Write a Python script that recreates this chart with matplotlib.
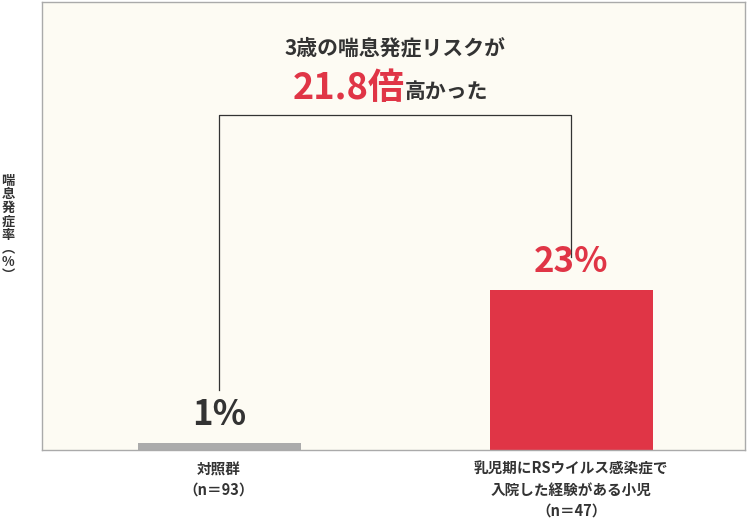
import matplotlib
matplotlib.use("Agg")
import matplotlib.pyplot as plt

plt.rcParams["font.family"] = ["Noto Sans CJK JP", "DejaVu Sans"]

GROUPS = ["対照群\n（n＝93）", "乳児期にRSウイルス感染症で\n入院した経験がある小児\n（n＝47）"]
RATES = [1, 23]
RATE_LABELS = ["1%", "23%"]
COLORS = ["#ababab", "#e03546"]
RED = "#e03546"
DARK = "#333333"

fig = plt.figure(figsize=(7.5, 5.26), dpi=100)
ax = fig.add_axes([42 / 750, 76 / 526, 703 / 750, 448 / 526])
ax.set_facecolor("#fdfbf3")
for s in ax.spines.values():
    s.set_color("#aaaaaa")
    s.set_linewidth(1)

x = [0, 1]
ax.bar(x, RATES, width=0.463, color=COLORS)
ax.set_xlim(-0.503, 1.494)
ax.set_ylim(0, 64.4)
ax.set_xticks([])
ax.set_yticks([])

for xi, r, lab, c in zip(x, RATES, RATE_LABELS, [DARK, RED]):
    ax.text(xi, r + 1.6, lab, ha="center", va="bottom", fontsize=25,
            fontweight="bold", color=c)

# bracket
ax.plot([0, 0, 1, 1], [8.6, 48.2, 48.2, 27.7], color="#333333", lw=0.9)

ax.text(0.5, 57.8, "3歳の喘息発症リスクが", ha="center", va="center",
        fontsize=15, fontweight="bold", color=DARK)
ax.text(0.528, 52.0, "21.8倍", ha="right", va="center", fontsize=26,
        fontweight="bold", color=RED)
ax.text(0.528, 51.6, "高かった", ha="left", va="center", fontsize=15,
        fontweight="bold", color=DARK)

for xi, g in zip(x, GROUPS):
    ax.text(xi, -1.6, g, ha="center", va="top", fontsize=10.5,
            fontweight="bold", color=DARK, linespacing=1.35)

fig.text(8 / 750, 1 - 228 / 526, "\n".join("喘息発症率︵%︶"),
         ha="center", va="center", fontsize=9.5, fontweight="bold",
         color=DARK, linespacing=0.95)

fig.savefig("out.png", dpi=100)
